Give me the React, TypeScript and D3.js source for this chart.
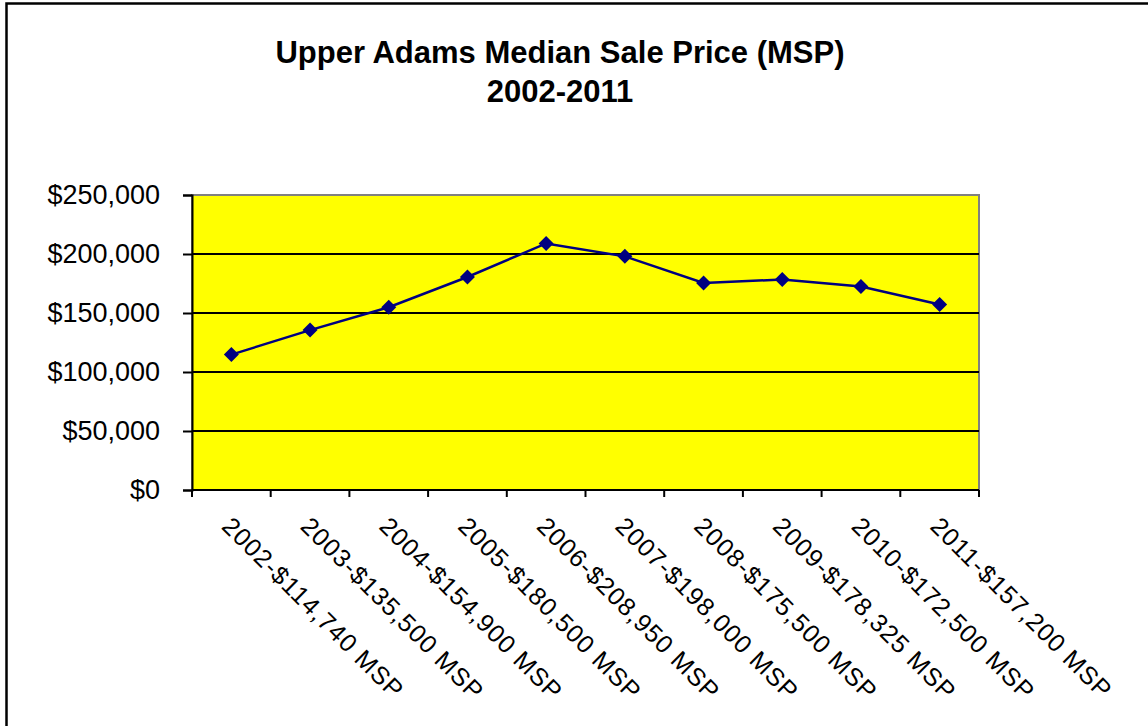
import { useEffect, useRef } from "react";
import * as d3 from "d3";

const years = ["2002", "2003", "2004", "2005", "2006", "2007", "2008", "2009", "2010", "2011"];
const prices = [114740, 135500, 154900, 180500, 208950, 198000, 175500, 178325, 172500, 157200];
const yTicks = [0, 50000, 100000, 150000, 200000, 250000];
const titleLines = ["Upper Adams Median Sale Price (MSP)", "2002-2011"];

const fmt = d3.format("$,");
const catLabel = (i: number) => `${years[i]}-${fmt(prices[i])} MSP`;

export default function App() {
  const svgRef = useRef<SVGSVGElement>(null);

  useEffect(() => {
    const svg = d3.select(svgRef.current!);
    svg.selectAll("*").remove();

    const left = 192;
    const right = 979;
    const top = 195;
    const bottom = 490;

    const x = d3.scaleBand<string>().domain(years).range([left, right]);
    const y = d3.scaleLinear().domain([0, 250000]).range([bottom, top]);

    // outer frame
    svg.append("rect")
      .attr("x", 6.5)
      .attr("y", 3.5)
      .attr("width", 1200)
      .attr("height", 800)
      .attr("fill", "#fff")
      .attr("stroke", "#000")
      .attr("stroke-width", 2.5);

    // title
    svg.append("g")
      .selectAll("text")
      .data(titleLines)
      .join("text")
      .attr("x", 560)
      .attr("y", (_d, i) => 63 + i * 39)
      .attr("text-anchor", "middle")
      .attr("font-family", "Liberation Sans, Arial, sans-serif")
      .attr("font-weight", "bold")
      .attr("font-size", "31px")
      .text((d) => d);

    // plot area
    svg.append("rect")
      .attr("x", left)
      .attr("y", top)
      .attr("width", right - left)
      .attr("height", bottom - top)
      .attr("fill", "#ffff00")
      .attr("stroke", "#808080")
      .attr("stroke-width", 2);

    // gridlines
    svg.append("g")
      .selectAll("line")
      .data(yTicks.filter((t) => t > 0 && t < 250000))
      .join("line")
      .attr("x1", left)
      .attr("x2", right)
      .attr("y1", (d) => y(d))
      .attr("y2", (d) => y(d))
      .attr("stroke", "#000")
      .attr("stroke-width", 2);

    // y axis
    const yAxis = svg.append("g")
      .attr("transform", `translate(${left},0)`)
      .call(d3.axisLeft(y).tickValues(yTicks).tickSize(9).tickPadding(23).tickFormat((d) => fmt(d as number)));
    yAxis.select(".domain").attr("stroke", "#000").attr("stroke-width", 2);
    yAxis.selectAll(".tick line").attr("stroke", "#000").attr("stroke-width", 2);
    yAxis.selectAll("text")
      .attr("font-family", "Liberation Sans, Arial, sans-serif")
      .attr("font-size", "27px")
      .attr("fill", "#000");

    // x axis
    const xAxisG = svg.append("g").attr("transform", `translate(0,${bottom})`);
    xAxisG.append("line")
      .attr("x1", left)
      .attr("x2", right)
      .attr("stroke", "#000")
      .attr("stroke-width", 2);
    const bounds = years.map((_d, i) => left + i * x.step()).concat([right]);
    xAxisG.selectAll("line.tick")
      .data(bounds)
      .join("line")
      .attr("class", "tick")
      .attr("x1", (d) => d)
      .attr("x2", (d) => d)
      .attr("y1", 0)
      .attr("y2", 7)
      .attr("stroke", "#000")
      .attr("stroke-width", 2);

    svg.append("g")
      .selectAll("text")
      .data(years)
      .join("text")
      .attr("transform", (d) => `translate(${x(d)! + x.bandwidth() / 2 + 2},${bottom + 25}) rotate(45)`)
      .attr("dy", "0.72em")
      .attr("font-family", "Liberation Sans, Arial, sans-serif")
      .attr("font-size", "25px")
      .attr("letter-spacing", "1px")
      .attr("fill", "#000")
      .text((_d, i) => catLabel(i));

    // line series
    const pts = years.map((d, i) => [x(d)! + x.bandwidth() / 2, y(prices[i])] as [number, number]);
    svg.append("path")
      .attr("d", d3.line()(pts)!)
      .attr("fill", "none")
      .attr("stroke", "#000080")
      .attr("stroke-width", 2.5);

    svg.append("g")
      .selectAll("path")
      .data(pts)
      .join("path")
      .attr("transform", (d) => `translate(${d[0]},${d[1]})`)
      .attr("d", "M0,-7.5L7.5,0L0,7.5L-7.5,0Z")
      .attr("fill", "#000080");
  }, []);

  return (
    <svg
      ref={svgRef}
      width={1148}
      height={726}
      style={{ position: "absolute", left: 0, top: 0, background: "#fff" }}
    />
  );
}
